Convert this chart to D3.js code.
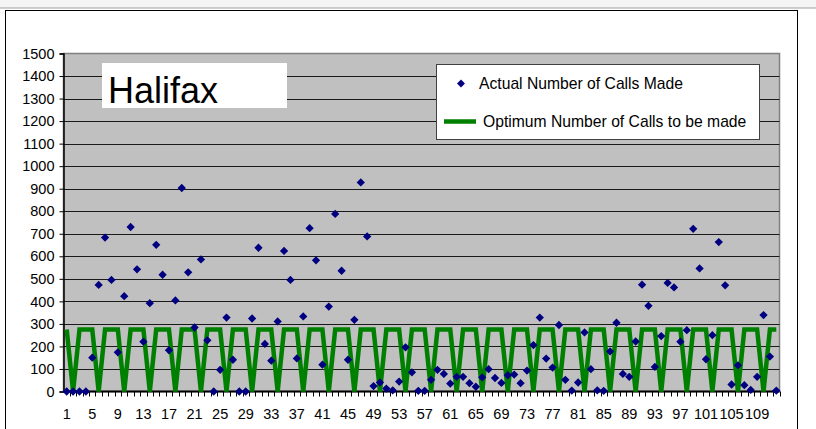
<!DOCTYPE html>
<html>
<head>
<meta charset="utf-8">
<script src="https://cdn.jsdelivr.net/npm/d3@7/dist/d3.min.js"></script>
<style>
  html, body { margin: 0; padding: 0; background: #ffffff; }
  svg { display: block; font-family: "Liberation Sans", Arial, sans-serif; }
</style>
</head>
<body>
<svg id="chart" width="816" height="429"></svg>
<script>
// Day numbers along the category axis
const categories = [
  1,2,3,4,5,6,7,8,9,10,11,12,13,14,15,16,17,18,19,20,
  21,22,23,24,25,26,27,28,29,30,31,32,33,34,35,36,37,38,39,40,
  41,42,43,44,45,46,47,48,49,50,51,52,53,54,55,56,57,58,59,60,
  61,62,63,64,65,66,67,68,69,70,71,72,73,74,75,76,77,78,79,80,
  81,82,83,84,85,86,87,88,89,90,91,92,93,94,95,96,97,98,99,100,
  101,102,103,104,105,106,107,108,109,110,111,112
];

// Calls actually made each day
const actualCalls = [
  0,0,0,0,150,473,683,495,174,423,730,542,221,392,651,518,183,404,903,529,
  284,586,227,0,96,328,141,0,0,324,638,211,137,311,624,495,147,333,725,582,
  119,377,788,536,141,318,928,688,24,40,13,5,44,196,85,3,3,52,96,78,
  35,65,65,37,21,63,99,60,38,72,75,37,93,206,328,146,106,295,52,4,
  40,262,99,5,3,178,305,78,65,222,474,380,109,246,482,462,221,272,722,546,
  143,250,663,471,31,116,28,7,65,339,155,4
];

// Optimum number of calls per day
const optimumCalls = [
  275,0,275,275,275,0,275,275,275,0,275,275,275,0,275,275,275,0,275,275,
  275,0,275,275,275,0,275,275,275,0,275,275,275,0,275,275,275,0,275,275,
  275,0,275,275,275,0,275,275,275,0,275,275,275,0,275,275,275,0,275,275,
  275,0,275,275,275,0,275,275,275,0,275,275,275,0,275,275,275,0,275,275,
  275,0,275,275,275,0,275,275,275,0,275,275,275,0,275,275,275,0,275,275,
  275,0,275,275,275,0,275,275,275,0,275,275
];

const xTickLabels = [1,5,9,13,17,21,25,29,33,37,41,45,49,53,57,61,65,69,73,77,81,85,89,93,97,101,105,109];
const yTickValues = [0,100,200,300,400,500,600,700,800,900,1000,1100,1200,1300,1400,1500];

const seriesNames = ["Actual Number of Calls Made", "Optimum Number of Calls to be made"];
const chartTitle = "Halifax";

const svg = d3.select("#chart");

// Outer window chrome and chart frame
svg.append("rect").attr("x", -1).attr("y", -1).attr("width", 818).attr("height", 9)
  .attr("fill", "#f4f4f4").attr("stroke", "#a0a0a0");
svg.append("rect").attr("x", 5.5).attr("y", 10.5).attr("width", 792).attr("height", 430)
  .attr("fill", "#ffffff").attr("stroke", "#000000");

const plot = { left: 63.5, right: 779.5, top: 53.5, bottom: 391.5 };

const x = d3.scaleBand().domain(categories).range([plot.left, plot.right]).padding(0);
const y = d3.scaleLinear().domain([0, 1500]).range([plot.bottom, plot.top]);

// Plot area
svg.append("rect")
  .attr("x", plot.left).attr("y", plot.top)
  .attr("width", plot.right - plot.left).attr("height", plot.bottom - plot.top)
  .attr("fill", "#c0c0c0").attr("stroke", "#808080").attr("stroke-width", 1.5);

// Horizontal gridlines
svg.append("g")
  .selectAll("line")
  .data(yTickValues.filter(v => v > 0 && v < 1500))
  .join("line")
  .attr("x1", plot.left).attr("x2", plot.right)
  .attr("y1", d => Math.round(y(d)) + 0.5).attr("y2", d => Math.round(y(d)) + 0.5)
  .attr("stroke", "#1a1a1a").attr("stroke-width", 1.2);

// Y axis
const yAxis = d3.axisLeft(y).tickValues(yTickValues).tickFormat(d3.format("d"))
  .tickSize(4).tickPadding(5);
const gy = svg.append("g").attr("transform", `translate(${plot.left},0)`).call(yAxis);
gy.select(".domain").attr("stroke", "#000").attr("stroke-width", 1.5);
gy.selectAll(".tick line").attr("stroke", "#000");
gy.selectAll(".tick text").attr("font-size", 14.5).attr("fill", "#000")
  .attr("font-family", "'Liberation Sans', Arial, sans-serif");

// X axis: labels every fourth day, tick marks between all days
const xAxis = d3.axisBottom(x).tickValues(xTickLabels).tickFormat(d3.format("d"))
  .tickSize(0).tickPadding(17);
const gx = svg.append("g").attr("transform", `translate(0,${plot.bottom})`).call(xAxis);
gx.select(".domain").remove();
gx.selectAll(".tick text").attr("font-size", 14.5).attr("fill", "#000")
  .attr("font-family", "'Liberation Sans', Arial, sans-serif");

svg.append("g")
  .selectAll("line")
  .data(categories)
  .join("line")
  .attr("x1", d => Math.round(x(d) + x.bandwidth()) + 0.5)
  .attr("x2", d => Math.round(x(d) + x.bandwidth()) + 0.5)
  .attr("y1", plot.bottom).attr("y2", plot.bottom + 5)
  .attr("stroke", "#000").attr("stroke-width", 1);

svg.append("line")
  .attr("x1", plot.left).attr("x2", plot.right)
  .attr("y1", plot.bottom).attr("y2", plot.bottom)
  .attr("stroke", "#000").attr("stroke-width", 2);

// Optimum line
const lineGen = d3.line()
  .x((d, i) => x(categories[i]) + x.bandwidth() / 2)
  .y(d => y(d));
svg.append("path")
  .datum(optimumCalls)
  .attr("d", lineGen)
  .attr("fill", "none")
  .attr("stroke", "#008000")
  .attr("stroke-width", 4.5)
  .attr("stroke-linejoin", "miter");

// Actual call markers
const diamond = d3.symbol().type(d3.symbolDiamond2).size(44);
svg.append("g")
  .selectAll("path")
  .data(actualCalls)
  .join("path")
  .attr("transform", (d, i) => `translate(${x(categories[i]) + x.bandwidth() / 2},${y(d)})`)
  .attr("d", diamond)
  .attr("fill", "#000080");

// Title box
svg.append("rect").attr("x", 102).attr("y", 63).attr("width", 185).attr("height", 45)
  .attr("fill", "#ffffff");
svg.append("text").attr("x", 108).attr("y", 102.5)
  .attr("font-size", 36).attr("fill", "#000").text(chartTitle);

// Legend
const legend = svg.append("g");
legend.append("rect").attr("x", 436.5).attr("y", 64.5).attr("width", 323).attr("height", 75)
  .attr("fill", "#ffffff").attr("stroke", "#404040").attr("stroke-width", 1);
legend.append("path")
  .attr("transform", "translate(461,83.5)")
  .attr("d", d3.symbol().type(d3.symbolDiamond2).size(40)())
  .attr("fill", "#000080");
legend.append("text").attr("x", 479).attr("y", 83.5).attr("dy", "0.35em")
  .attr("font-size", 15.7).attr("fill", "#000").text(seriesNames[0]);
legend.append("line").attr("x1", 444).attr("x2", 476).attr("y1", 121.5).attr("y2", 121.5)
  .attr("stroke", "#008000").attr("stroke-width", 4.5);
legend.append("text").attr("x", 483).attr("y", 121.5).attr("dy", "0.35em")
  .attr("font-size", 15.7).attr("fill", "#000").text(seriesNames[1]);
</script>
</body>
</html>
